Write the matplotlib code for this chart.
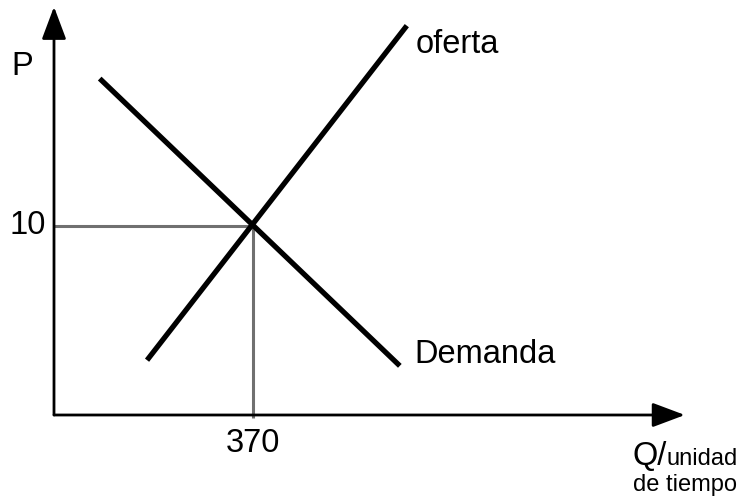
import matplotlib.pyplot as plt

plt.rcParams["font.family"] = ["Liberation Sans", "DejaVu Sans"]

# equilibrium
q_eq = 370
p_eq = 10

# curve endpoints (Q, P)
oferta_q = [173, 656]
oferta_p = [2.9, 20.6]
demanda_q = [85, 643]
demanda_p = [17.8, 2.6]

# axis extents
q_max = 1173
p_max = 21.6

# scale: pixels per unit, origin pixel
sx = 199 / 370
sy = 189 / 10
ox, oy = 54, 415
W, H = 742, 497

fig = plt.figure(figsize=(W / 100, H / 100), dpi=100)
ax = fig.add_axes([0, 0, 1, 1])
ax.set_xlim(-ox / sx, (W - ox) / sx)
ax.set_ylim((oy - H) / sy, oy / sy)
ax.axis("off")

arrow = dict(arrowstyle="-|>,head_length=2.0,head_width=0.75", mutation_scale=10,
             lw=2.0, color="black", shrinkA=0, shrinkB=0)
ax.annotate("", xy=(q_max, 0), xytext=(0, 0), arrowprops=arrow)
ax.annotate("", xy=(0, p_max), xytext=(0, 0), arrowprops=arrow)

# guide lines to equilibrium
ax.plot([0, q_eq], [p_eq, p_eq], color="#707070", lw=2.2, solid_capstyle="butt")
ax.plot([q_eq, q_eq], [p_eq, -0.15], color="#707070", lw=2.2, solid_capstyle="butt")

ax.plot(oferta_q, oferta_p, color="black", lw=3.8, solid_capstyle="butt")
ax.plot(demanda_q, demanda_p, color="black", lw=3.8, solid_capstyle="butt")

fs = 23.5
ax.text((22 - ox) / sx, 18.0, "P", fontsize=fs, ha="center", va="baseline")
ax.text(-16, p_eq - 0.42, "10", fontsize=fs, ha="right", va="baseline")
ax.text(q_eq, -1.95, "370", fontsize=fs, ha="center", va="baseline")
ax.text(672, 19.15, "oferta", fontsize=fs, ha="left", va="baseline")
ax.text(670, 2.75, "Demanda", fontsize=fs, ha="left", va="baseline")

tx = (633 - ox) / sx
ax.text(tx, (oy - 465) / sy, "Q/", fontsize=fs, ha="left", va="baseline")
ax.text(tx + 33 / sx, (oy - 465) / sy, "unidad", fontsize=17, ha="left", va="baseline")
ax.text((737 - ox) / sx, (oy - 491) / sy, "de tiempo", fontsize=17, ha="right", va="baseline")

fig.savefig("out.png", dpi=100)
